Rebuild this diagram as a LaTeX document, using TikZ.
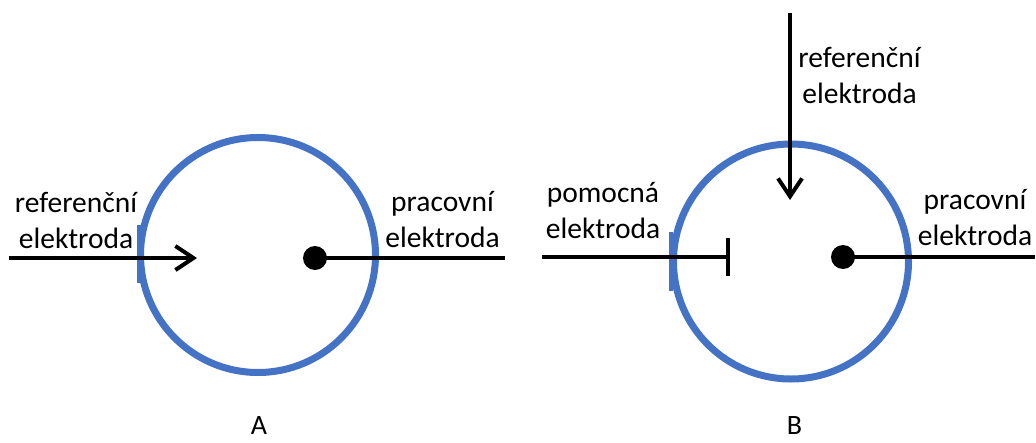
\documentclass[tikz,border=0pt]{standalone}
\usepackage{fontspec}
\setmainfont{Carlito}
\usetikzlibrary{arrows.meta}
\definecolor{cellblue}{HTML}{4472C4}
\tikzset{
  cell/.style={draw=cellblue, line width=7pt},
  patch/.style={fill=cellblue, draw=none},
  wire/.style={draw=black, line width=4pt},
  refarrow/.style={wire, -{Straight Barb[length=18pt,width=24pt,line width=4pt]}},
  auxbar/.style={wire, -{Bar[width=38pt,line width=4pt]}},
  dot/.style={circle, fill=black, minimum size=24pt, inner sep=0pt},
  lbl/.style={font=\fontsize{29.5}{36}\selectfont, align=center, inner sep=0pt, anchor=base},
  tag/.style={font=\fontsize{28}{34}\selectfont, inner sep=0pt, text depth=0pt, anchor=base}
}
\begin{document}
\begin{tikzpicture}[x=1pt, y=-1pt]
\useasboundingbox (0,0) rectangle (1036,442);

% ---- two-electrode cell (A)
\draw[cell] (258,255) circle[radius=117.5];
\fill[patch] (136.5,225) rectangle (140.5,283);
\coordinate (refAin) at (9,258);
\coordinate (refAtip) at (197,258);
\draw[refarrow] (refAin) -- (refAtip);
\node[dot] (workA) at (315,258) {};
\coordinate (workAout) at (505,258);
\draw[wire] (workA.center) -- (workAout);
% label anchors sit on the baseline of the lower line
\node[lbl] (refAlbl) at (76,248) {referenční\\elektroda};
\node[lbl] (workAlbl) at (442.5,247) {pracovní\\elektroda};
\node[tag] (tagA) at (259,434) {A};

% ---- three-electrode cell (B)
\draw[cell] (791,261.5) circle[radius=117.5];
\fill[patch] (668.5,232) rectangle (672.5,291);
\coordinate (refBin) at (790,13);
\coordinate (refBtip) at (790,200);
\draw[refarrow] (refBin) -- (refBtip);
\coordinate (auxBin) at (542,257);
\coordinate (auxBend) at (730,257);
\draw[auxbar] (auxBin) -- (auxBend);
\node[dot] (workB) at (843,257) {};
\coordinate (workBout) at (1035,257);
\draw[wire] (workB.center) -- (workBout);
\node[lbl] (refBlbl) at (859.5,103) {referenční\\elektroda};
\node[lbl] (auxBlbl) at (603,238) {pomocná\\elektroda};
\node[lbl] (workBlbl) at (975,245) {pracovní\\elektroda};
\node[tag] (tagB) at (794.5,434) {B};
\end{tikzpicture}
\end{document}
